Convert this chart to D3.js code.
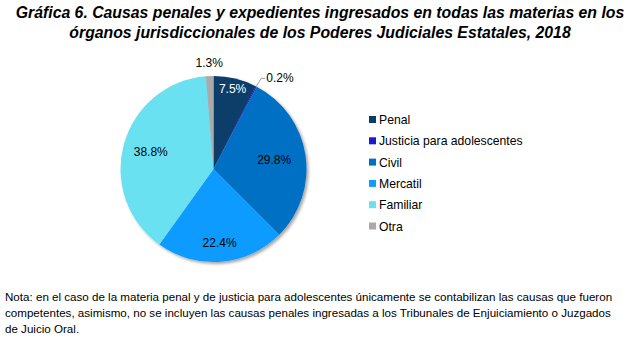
<!DOCTYPE html>
<html><head><meta charset="utf-8">
<script src="https://cdn.jsdelivr.net/npm/d3@7/dist/d3.min.js"></script>
<style>body{margin:0;background:#fff}svg{display:block}text{font-family:"Liberation Sans",Arial,sans-serif}</style>
</head><body>
<svg id="c" width="640" height="340"></svg>
<script>
const categories = ["Penal","Justicia para adolescentes","Civil","Mercatil","Familiar","Otra"];
const values = [7.5, 0.2, 29.8, 22.4, 38.8, 1.3];
const colors = ["#073d69","#1a1ad0","#0070c4","#0f9bff","#6ae1f0","#aaaaaa"];
const titleLines = ["Gráfica 6. Causas penales y expedientes ingresados en todas las materias en los","órganos jurisdiccionales de los Poderes Judiciales Estatales, 2018"];
const noteLines = ["Nota: en el caso de la materia penal y de justicia para adolescentes únicamente se contabilizan las causas que fueron","competentes, asimismo, no se incluyen las causas penales ingresadas a los Tribunales de Enjuiciamiento o Juzgados","de Juicio Oral."];

const svg = d3.select("#c");
const defs = svg.append("defs");
const f = defs.append("filter").attr("id","sh").attr("x","-20%").attr("y","-20%").attr("width","150%").attr("height","150%");
f.append("feDropShadow").attr("dx",2).attr("dy",2).attr("stdDeviation",1.8).attr("flood-color","#000").attr("flood-opacity",0.35);

svg.selectAll("text.title").data(titleLines).enter().append("text")
  .attr("x",320).attr("y",(d,i)=>18+i*20).attr("text-anchor","middle")
  .attr("font-size",15.8).attr("font-weight","bold").attr("font-style","italic").attr("fill","#000").text(d=>d);

const cx=213.5, cy=169, R=93;
const pie = d3.pie().sort(null).value(d=>d)(values);
const arc = d3.arc().innerRadius(0).outerRadius(R);
const g = svg.append("g").attr("transform",`translate(${cx},${cy})`);
g.append("g").attr("filter","url(#sh)").selectAll("path").data(pie).enter().append("path")
  .attr("d",arc).attr("fill",(d,i)=>colors[i]);

const labelR = [0.88,0,0.66,0.8,0.7,0];
const fmt = v=>d3.format(".1f")(v)+"%";
pie.forEach((d,i)=>{
  const a=(d.startAngle+d.endAngle)/2;
  if(labelR[i]>0){
    const r=R*labelR[i];
    g.append("text").attr("x",Math.sin(a)*r).attr("y",-Math.cos(a)*r+4)
      .attr("text-anchor","middle").attr("font-size",12)
      .attr("fill", i===0?"#fff":"#000").text(fmt(values[i]));
  }
});
{
  const d=pie[1], a=(d.startAngle+d.endAngle)/2;
  const x0=Math.sin(a)*R, y0=-Math.cos(a)*R;
  g.append("polyline").attr("points",`${x0},${y0} ${x0+5},${y0-8} ${x0+9},${y0-8}`)
    .attr("fill","none").attr("stroke","#888").attr("stroke-width",0.8);
  g.append("text").attr("x",x0+10).attr("y",y0-4).attr("font-size",12).attr("fill","#000").text(fmt(values[1]));
}
{
  const d=pie[5], a=(d.startAngle+d.endAngle)/2;
  const x0=Math.sin(a)*(R+13), y0=-Math.cos(a)*(R+13);
  g.append("text").attr("x",x0).attr("y",y0+4).attr("text-anchor","middle").attr("font-size",12).attr("fill","#000").text(fmt(values[5]));
}

const leg = svg.append("g").attr("transform","translate(369,120)");
const ly = d3.scalePoint().domain(categories).range([0,106.5]);
const items = leg.selectAll("g").data(categories).enter().append("g").attr("transform",d=>`translate(0,${ly(d)})`);
items.append("rect").attr("x",0).attr("y",-4).attr("width",7).attr("height",7).attr("fill",(d,i)=>colors[i]);
items.append("text").attr("x",10).attr("y",4).attr("font-size",12.2).attr("fill","#000").text(d=>d);

svg.selectAll("text.note").data(noteLines).enter().append("text")
  .attr("x",5).attr("y",(d,i)=>301+i*16).attr("font-size",11.6).attr("fill","#000").text(d=>d);
</script>
</body></html>
